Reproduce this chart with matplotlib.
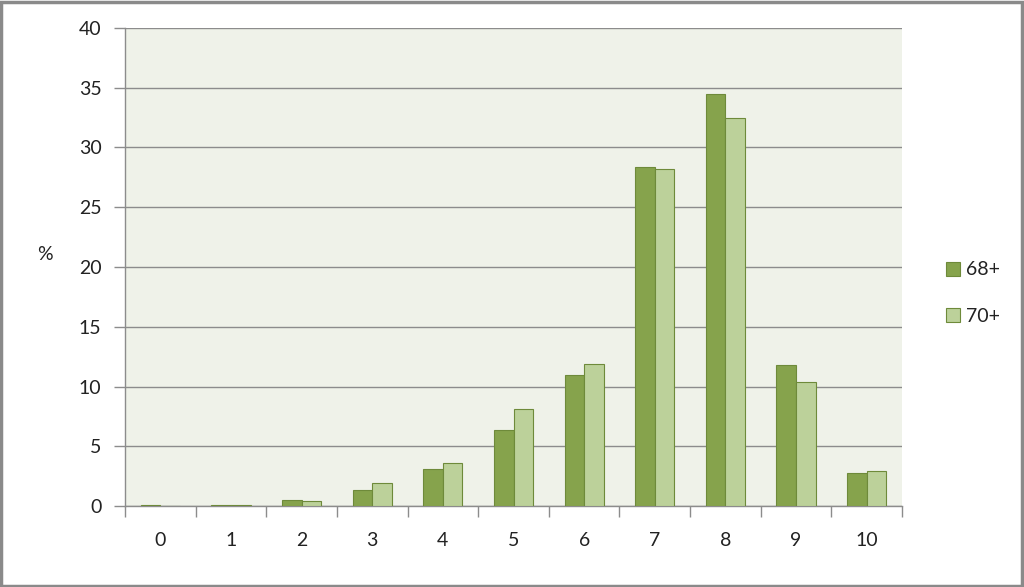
import matplotlib
matplotlib.use("Agg")
import matplotlib.pyplot as plt
import numpy as np
from matplotlib.patches import Rectangle

categories = ["0", "1", "2", "3", "4", "5", "6", "7", "8", "9", "10"]
series_68 = [0.1, 0.1, 0.5, 1.3, 3.1, 6.4, 11.0, 28.4, 34.5, 11.8, 2.8]
series_70 = [0.0, 0.1, 0.4, 1.9, 3.6, 8.1, 11.9, 28.2, 32.5, 10.4, 2.9]
series_names = ["68+", "70+"]
yticks = [0, 5, 10, 15, 20, 25, 30, 35, 40]

plt.rcParams['font.family'] = ['Lato', 'DejaVu Sans']
fs = 14

fig = plt.figure(figsize=(10.24, 5.87), dpi=100)
fig.patch.set_facecolor('white')
ax = fig.add_axes([125/1024, 1-506/587, (902-125)/1024, (506-28)/587])
ax.set_facecolor('#eff2e9')

x = np.arange(len(categories))
w = 0.277
edge = '#6e8a3a'
ax.bar(x - w/2, series_68, w, color='#86a34c', edgecolor=edge, linewidth=0.8, label=series_names[0], zorder=3)
ax.bar(x + w/2, series_70, w, color='#bcd19a', edgecolor=edge, linewidth=0.8, label=series_names[1], zorder=3)

ax.set_xlim(-0.5, len(categories) - 0.5)
ax.set_ylim(0, 40)
ax.set_yticks(yticks)
ax.set_yticklabels([str(v) for v in yticks], fontsize=fs, color='#222222')
ax.yaxis.grid(True, color='#8c8c8c', linewidth=1.0, zorder=0)
ax.set_axisbelow(True)

ax.set_xticks(np.arange(-0.5, len(categories), 1.0))
ax.set_xticklabels([])
ax.set_xticks(x, minor=True)
ax.set_xticklabels(categories, minor=True, fontsize=fs, color='#222222')
ax.tick_params(axis='x', which='major', length=8, width=1.0, color='#8c8c8c', direction='out')
ax.tick_params(axis='x', which='minor', length=0, pad=19)
ax.tick_params(axis='y', length=8, width=1.0, color='#8c8c8c', direction='out', pad=9)

for s in ['top', 'right']:
    ax.spines[s].set_visible(False)
for s in ['left', 'bottom']:
    ax.spines[s].set_color('#8c8c8c')
    ax.spines[s].set_linewidth(1.0)

fig.text(45/1024, 1-255/587, '%', fontsize=fs, color='#222222', ha='center', va='center')

leg = fig.legend(loc='center left', bbox_to_anchor=(938/1024, 1-293/587), frameon=False,
                 fontsize=fs, handlelength=0.75, handleheight=0.75, handletextpad=0.3,
                 labelspacing=1.5, borderaxespad=0)
for t in leg.get_texts():
    t.set_color('#222222')

fig.add_artist(Rectangle((0.001, 0.002), 0.997, 0.995, transform=fig.transFigure,
                         fill=False, edgecolor='#8a8a8a', linewidth=2.5))

fig.savefig('out.png', dpi=100, facecolor='white')
